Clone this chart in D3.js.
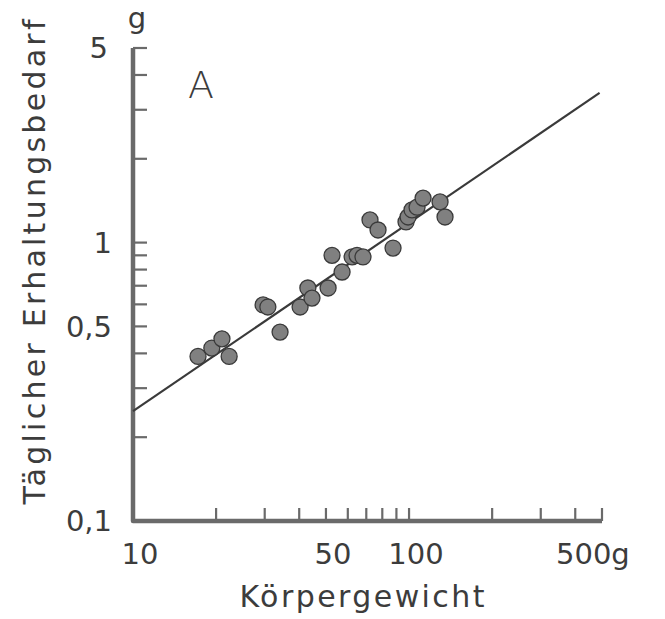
<!DOCTYPE html>
<html>
<head>
<meta charset="utf-8">
<script src="https://cdn.jsdelivr.net/npm/d3@7"></script>
<style>
  body { margin: 0; background: #fff; }
  text { font-family: "DejaVu Sans", sans-serif; fill: #3c3c3c; }
</style>
</head>
<body>
<svg id="chart" width="665" height="619"></svg>
<script>
// body weight (g) and daily maintenance need (g)
let weight = [17.2, 19.3, 21.0, 22.3, 29.6, 30.8, 34.1, 40.3, 43.0, 44.5, 50.9, 52.6, 57.2,
  62.2, 64.8, 68.1, 72.2, 77.2, 87.5, 97.5, 99.2, 102.5, 106.9, 112.4, 129.5, 135];
let need = [0.39, 0.418, 0.451, 0.39, 0.597, 0.587, 0.477, 0.587, 0.687, 0.632, 0.687, 0.90, 0.784,
  0.888, 0.90, 0.888, 1.206, 1.11, 0.956, 1.186, 1.236, 1.31, 1.34, 1.445, 1.40, 1.236];

// regression line end points
let lineX = [10, 490];
let lineY = [0.248, 3.45];

let xTicks = [20, 30, 40, 50, 60, 70, 80, 90, 100, 200, 300, 400, 500];
let xLabels = [[10, "10"], [50, "50"], [100, "100"], [500, "500g"]];
let yTicks = [0.2, 0.3, 0.4, 0.5, 0.6, 0.7, 0.8, 0.9, 1, 2, 3, 4, 5];
let yLabels = [[0.1, "0,1"], [0.5, "0,5"], [1, "1"], [5, "5"]];

let svg = d3.select("#chart");

let x = d3.scaleLog().domain([10, 500]).range([133, 602]);
let y = d3.scaleLog().domain([0.1, 5]).range([521, 48]);

let axisColor = "#6a6a6a";

// ticks on y axis (pointing inwards)
svg.append("g").selectAll("line")
  .data(yTicks)
  .enter()
  .append("line")
  .attr("x1", x(10))
  .attr("x2", x(10) + 14)
  .attr("y1", d => y(d))
  .attr("y2", d => y(d))
  .attr("stroke", axisColor)
  .attr("stroke-width", 2.2);

// ticks on x axis
svg.append("g").selectAll("line")
  .data(xTicks)
  .enter()
  .append("line")
  .attr("x1", d => x(d))
  .attr("x2", d => x(d))
  .attr("y1", y(0.1))
  .attr("y2", y(0.1) - 13)
  .attr("stroke", axisColor)
  .attr("stroke-width", 2.2);

// axis lines
svg.append("path")
  .attr("d", "M" + x(10) + "," + y(5) + "L" + x(10) + "," + y(0.1) + "L" + x(500) + "," + y(0.1))
  .attr("fill", "none")
  .attr("stroke", axisColor)
  .attr("stroke-width", 4.5)
  .attr("stroke-linejoin", "round");

// tick labels
svg.append("g").selectAll("text")
  .data(yLabels)
  .enter()
  .append("text")
  .attr("x", d => d[1] == "5" ? 108 : 112)
  .attr("y", d => y(d[0]))
  .attr("dy", "0.36em")
  .attr("text-anchor", "end")
  .style("font-size", "29px")
  .text(d => d[1]);

svg.append("g").selectAll("text")
  .data(xLabels)
  .enter()
  .append("text")
  .attr("x", d => x(d[0]) + (d[1] == "500g" ? -46 : 7))
  .attr("y", 564)
  .attr("text-anchor", d => d[1] == "500g" ? "start" : "middle")
  .style("font-size", "29px")
  .text(d => d[1]);

// unit on y axis
svg.append("text")
  .attr("x", 137)
  .attr("y", 28)
  .attr("text-anchor", "middle")
  .style("font-size", "29px")
  .text("g");

// panel letter
svg.append("text")
  .attr("x", 201)
  .attr("y", 98)
  .attr("text-anchor", "middle")
  .style("font-size", "38px")
  .style("font-weight", "300")
  .text("A");

// axis titles
svg.append("text")
  .attr("x", 362)
  .attr("y", 607)
  .attr("text-anchor", "middle")
  .attr("textLength", 245)
  .attr("lengthAdjust", "spacing")
  .style("font-size", "30px")
  .text("Körpergewicht");

svg.append("text")
  .attr("transform", "translate(45,262) rotate(-90)")
  .attr("text-anchor", "middle")
  .attr("textLength", 485)
  .attr("lengthAdjust", "spacing")
  .style("font-size", "30px")
  .text("Täglicher Erhaltungsbedarf");

// regression line
svg.append("line")
  .attr("x1", x(lineX[0]))
  .attr("y1", y(lineY[0]))
  .attr("x2", x(lineX[1]))
  .attr("y2", y(lineY[1]))
  .attr("stroke", "#3a3a3a")
  .attr("stroke-width", 2.2);

// data points
svg.append("g").selectAll("circle")
  .data(weight)
  .enter()
  .append("circle")
  .attr("cx", d => x(d))
  .attr("cy", (d, i) => y(need[i]))
  .attr("r", 8)
  .attr("fill", "#808080")
  .attr("stroke", "#3a3a3a")
  .attr("stroke-width", 1.3);
</script>
</body>
</html>
